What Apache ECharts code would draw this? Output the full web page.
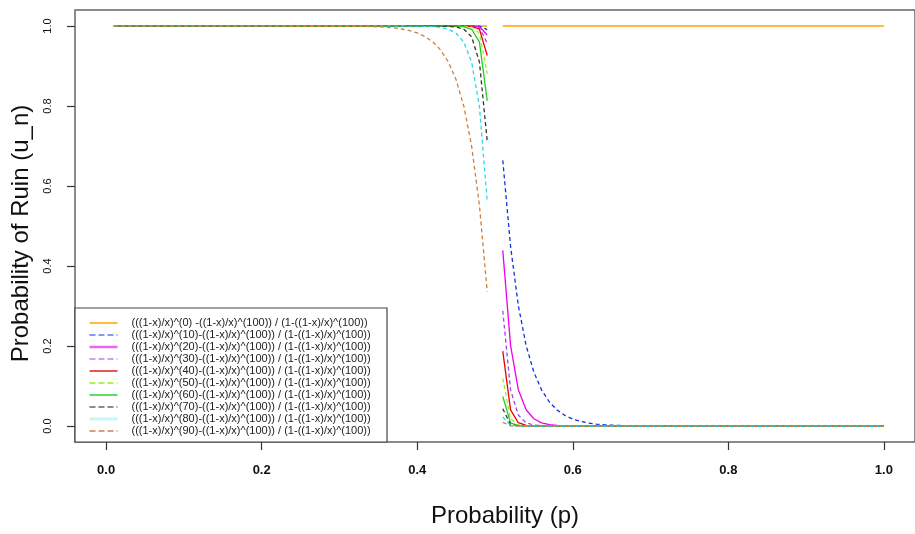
<!DOCTYPE html>
<html>
<head>
<meta charset="utf-8">
<script src="https://cdn.jsdelivr.net/npm/echarts@6/dist/echarts.min.js"></script>
<style>
html,body{margin:0;padding:0;background:#fff;}
#chart{width:915px;height:534px;}
</style>
</head>
<body>
<div id="chart"></div>
<script>
// ---- data ----
const pLeft  = [0.01, 0.33, 0.34, 0.35, 0.36, 0.37, 0.38, 0.39, 0.40, 0.41, 0.42, 0.43, 0.44, 0.45, 0.46, 0.47, 0.48, 0.49];
const pRight = [0.51, 0.52, 0.53, 0.54, 0.55, 0.56, 0.57, 0.58, 0.59, 0.60, 0.61, 0.62, 0.63, 0.64, 0.65, 0.66, 0.67, 0.68, 1.00];

const u00Left  = [1,1,1,1,1,1,1,1,1,1,1,1,1,1,1,1,1,1];
const u10Left  = [1,1,1,1,1,1,1,1,1,1,1,1,1,1,1,1,0.9996,0.9908];
const u20Left  = [1,1,1,1,1,1,1,1,1,1,1,1,1,1,1,0.9999,0.9987,0.9772];
const u30Left  = [1,1,1,1,1,1,1,1,1,1,1,1,1,1,1,0.9998,0.9966,0.9567];
const u40Left  = [1,1,1,1,1,1,1,1,1,1,1,1,1,1,0.9999,0.9993,0.9921,0.9263];
const u50Left  = [1,1,1,1,1,1,1,1,1,1,1,1,1,1,0.9997,0.9975,0.9821,0.8808];
const u60Left  = [1,1,1,1,1,1,1,1,1,1,1,1,0.9999,0.9997,0.9984,0.9918,0.9596,0.8130];
const u70Left  = [1,1,1,1,1,1,1,1,1,1,0.9999,0.9998,0.9993,0.9976,0.9919,0.9728,0.9097,0.7119];
const u80Left  = [1,1,1,1,1,1,1,0.9999,0.9997,0.9993,0.9984,0.9964,0.9920,0.9819,0.9595,0.9095,0.7986,0.5610];
const u90Left  = [1,0.9992,0.9987,0.9980,0.9968,0.9951,0.9925,0.9886,0.9827,0.9737,0.9604,0.9403,0.9103,0.8656,0.7988,0.6992,0.5511,0.3359];

const u00Right = [1,1,1,1,1,1,1,1,1,1,1,1,1,1,1,1,1,1,1];
const u10Right = [0.6642,0.4490,0.3008,0.2012,0.1345,0.0897,0.0597,0.0397,0.0263,0.0173,0.0114,0.0075,0.0049,0.0032,0.0021,0.0013,0.0008,0.0005,0];
const u20Right = [0.4390,0.2015,0.0905,0.0405,0.0181,0.0080,0.0036,0.0016,0.0007,0.0003,0.0001,0,0,0,0,0,0,0,0];
const u30Right = [0.2881,0.0903,0.0272,0.0081,0.0024,0.0007,0.0002,0.0001,0,0,0,0,0,0,0,0,0,0,0];
const u40Right = [0.1870,0.0404,0.0082,0.0016,0.0003,0.0001,0,0,0,0,0,0,0,0,0,0,0,0,0];
const u50Right = [0.1192,0.0180,0.0025,0.0003,0,0,0,0,0,0,0,0,0,0,0,0,0,0,0];
const u60Right = [0.0737,0.0079,0.0007,0.0001,0,0,0,0,0,0,0,0,0,0,0,0,0,0,0];
const u70Right = [0.0433,0.0034,0.0002,0,0,0,0,0,0,0,0,0,0,0,0,0,0,0,0];
const u80Right = [0.0229,0.0013,0.0001,0,0,0,0,0,0,0,0,0,0,0,0,0,0,0,0];
const u90Right = [0.0092,0.0004,0,0,0,0,0,0,0,0,0,0,0,0,0,0,0,0,0];

const seriesNames = [
  "(((1-x)/x)^(0) -((1-x)/x)^(100)) / (1-((1-x)/x)^(100))",
  "(((1-x)/x)^(10)-((1-x)/x)^(100)) / (1-((1-x)/x)^(100))",
  "(((1-x)/x)^(20)-((1-x)/x)^(100)) / (1-((1-x)/x)^(100))",
  "(((1-x)/x)^(30)-((1-x)/x)^(100)) / (1-((1-x)/x)^(100))",
  "(((1-x)/x)^(40)-((1-x)/x)^(100)) / (1-((1-x)/x)^(100))",
  "(((1-x)/x)^(50)-((1-x)/x)^(100)) / (1-((1-x)/x)^(100))",
  "(((1-x)/x)^(60)-((1-x)/x)^(100)) / (1-((1-x)/x)^(100))",
  "(((1-x)/x)^(70)-((1-x)/x)^(100)) / (1-((1-x)/x)^(100))",
  "(((1-x)/x)^(80)-((1-x)/x)^(100)) / (1-((1-x)/x)^(100))",
  "(((1-x)/x)^(90)-((1-x)/x)^(100)) / (1-((1-x)/x)^(100))"
];
const leftValues  = [u00Left,u10Left,u20Left,u30Left,u40Left,u50Left,u60Left,u70Left,u80Left,u90Left];
const rightValues = [u00Right,u10Right,u20Right,u30Right,u40Right,u50Right,u60Right,u70Right,u80Right,u90Right];

const xTicks = [0.0, 0.2, 0.4, 0.6, 0.8, 1.0];
const yTicks = [0.0, 0.2, 0.4, 0.6, 0.8, 1.0];

// ---- styles ----
const colors   = ['#FFA500','#1030E0','#EE00EE','#A040F0','#E80000','#99EE22','#22CC22','#333333','#22DDEE','#CD7F40'];
const dashed   = [false,true,false,true,false,true,false,true,true,true];
const legendStyle = [
  {color:'#FFA500', type:'solid', width:1.5},
  {color:'#7070F0', type:'dashed', width:1.5},
  {color:'#EE66EE', type:'solid', width:2.5},
  {color:'#C080F0', type:'dashed', width:1.5},
  {color:'#E02020', type:'solid', width:1.5},
  {color:'#99EE22', type:'dashed', width:1.5},
  {color:'#33CC33', type:'solid', width:1.5},
  {color:'#666666', type:'dashed', width:1.5},
  {color:'#C8F6F6', type:'solid', width:3},
  {color:'#D08050', type:'dashed', width:1.5}
];

const sans = '"Liberation Sans",Arial,sans-serif';

const series = seriesNames.map((name, i) => {
  const data = [];
  pLeft.forEach((p, j) => data.push([p, leftValues[i][j]]));
  data.push([0.5, null]);
  pRight.forEach((p, j) => data.push([p, rightValues[i][j]]));
  return {
    name: name,
    type: 'line',
    data: data,
    symbol: 'none',
    showSymbol: false,
    connectNulls: false,
    animation: false,
    lineStyle: {color: colors[i], width: 1.3, type: dashed[i] ? [4,3] : 'solid'},
    itemStyle: {color: colors[i]}
  };
});

const chart = echarts.init(document.getElementById('chart'), null, {renderer:'canvas'});
chart.setOption({
  animation: false,
  backgroundColor: '#fff',
  grid: {left: 75, top: 10, width: 852.6, height: 432, show: true, borderColor: '#666', borderWidth: 1.5, backgroundColor: 'transparent'},
  xAxis: {
    type: 'value', min: -0.04, max: 1.04,
    axisLine: {show: false, onZero: false},
    splitLine: {show: false},
    axisTick: {show: true, length: 8, inside: false, customValues: xTicks, lineStyle: {color: '#333', width: 1.2}},
    axisLabel: {customValues: xTicks, margin: 22, formatter: v => v.toFixed(1), color: '#111', fontSize: 13, fontFamily: sans, fontWeight: 'bold'},
    name: 'Probability (p)', nameLocation: 'middle', nameGap: 62,
    nameTextStyle: {fontSize: 24, color: '#111', fontFamily: sans, padding: [0,0,0,20]}
  },
  yAxis: {
    type: 'value', min: -0.04, max: 1.04,
    axisLine: {show: false, onZero: false},
    splitLine: {show: false},
    axisTick: {show: true, length: 8, inside: false, customValues: yTicks, lineStyle: {color: '#333', width: 1.2}},
    axisLabel: {customValues: yTicks, rotate: 90, margin: 22, formatter: v => v.toFixed(1), color: '#111', fontSize: 11, fontFamily: sans},
    name: 'Probability of Ruin (u_n)', nameLocation: 'middle', nameGap: 42,
    nameTextStyle: {fontSize: 24, color: '#111', fontFamily: sans, padding: [0,15,0,0]}
  },
  legend: {
    orient: 'vertical', left: 88, top: 317, padding: 0,
    itemWidth: 28, itemHeight: 12, itemGap: 0,
    selectedMode: false,
    itemStyle: {opacity: 0},
    data: seriesNames.map((n, i) => ({name: n, lineStyle: legendStyle[i], itemStyle: {opacity: 0}})),
    textStyle: {fontSize: 11, lineHeight: 12, color: '#222', fontFamily: sans, padding: [0,0,0,9]}
  },
  graphic: [{
    type: 'rect', z: 3, silent: true,
    shape: {x: 75, y: 308, width: 312, height: 134},
    style: {fill: '#fff', stroke: '#444', lineWidth: 1.2}
  }],
  series: series
});
</script>
</body>
</html>
